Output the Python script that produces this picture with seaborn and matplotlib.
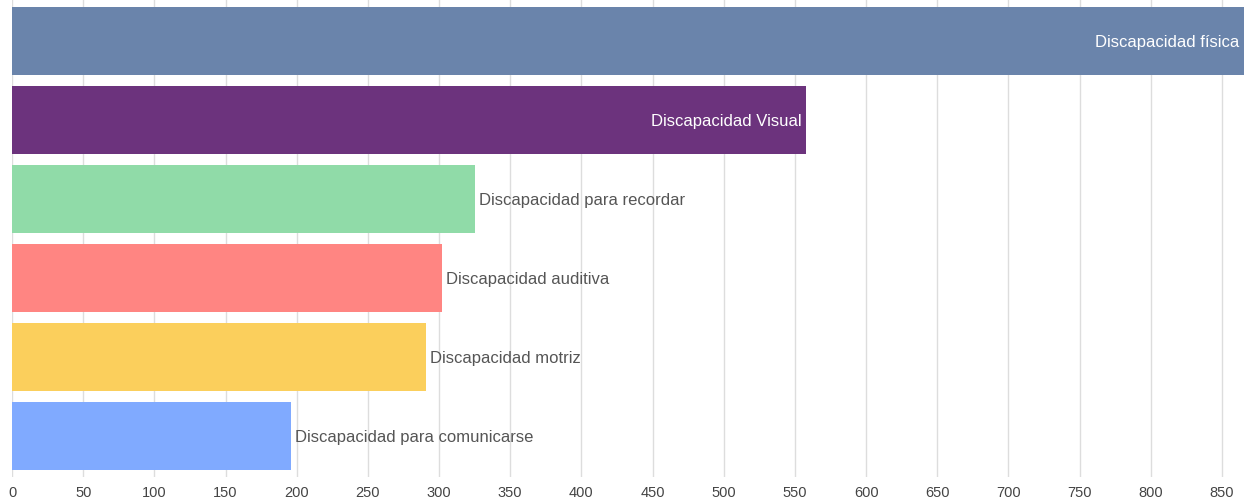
import pandas as pd
import seaborn as sns
import matplotlib.pyplot as plt

categories = ['Discapacidad física', 'Discapacidad Visual', 'Discapacidad para recordar',
              'Discapacidad auditiva', 'Discapacidad motriz', 'Discapacidad para comunicarse']
values = [866, 558, 325, 302, 291, 196]
colors = ['#6A84AB', '#6C337D', '#90DBA8', '#FF8582', '#FBCF5C', '#80AAFF']
inside = [True, True, False, False, False, False]
ticks = list(range(0, 851, 50))

df = pd.DataFrame({'cat': categories, 'val': values})

sns.set_style('white')
plt.rcParams['font.family'] = ['Liberation Sans', 'DejaVu Sans']

fig = plt.figure(figsize=(12.44, 5.02), dpi=100)
ax = fig.add_axes([12 / 1244, 24 / 502, 1 - 12 / 1244, 1 - 24 / 502])

sns.barplot(data=df, y='cat', x='val', hue='cat', palette=colors, orient='h',
            width=0.865, legend=False, ax=ax, saturation=1, linewidth=0)

ax.set_xlim(0, 865.5)
ax.set_ylim(5.515, -0.535)
ax.set_xticks(ticks)
ax.tick_params(axis='x', labelsize=10.5, colors='#444444', length=0, pad=6)
ax.set_yticks([])
ax.set_xlabel('')
ax.set_ylabel('')
ax.grid(axis='x', color='#dddddd', linewidth=1)
ax.set_axisbelow(True)
for s in ax.spines.values():
    s.set_visible(False)

# etiquetas: dentro de la barra (blanco) o a la derecha (gris)
for i, (c, v) in enumerate(zip(categories, values)):
    if inside[i]:
        ax.text(min(v, 865.5) - 3, i, c, color='white', ha='right', va='center', fontsize=12)
    else:
        ax.text(v + 3, i, c, color='#555555', ha='left', va='center', fontsize=12)

fig.savefig('out.png', dpi=100)
